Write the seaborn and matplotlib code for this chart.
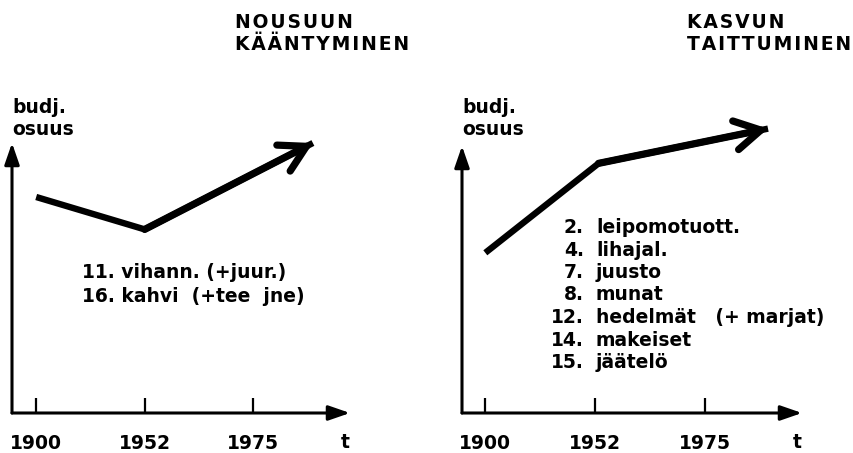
import matplotlib
matplotlib.use("Agg")
import matplotlib.pyplot as plt
import seaborn as sns
import pandas as pd

# ---- data -------------------------------------------------------------
years = ["1900", "1952", "1975"]
tick_pos = [0, 1, 2]
left_t = [0, 1, 2.55]
left_share = [8.0, 6.8, 10.0]
right_t = [0, 1.03, 2.57]
right_share = [6.0, 9.35, 10.65]
left_title = ["NOUSUUN", "KÄÄNTYMINEN"]
right_title = ["KASVUN", "TAITTUMINEN"]
y_label = ["budj.", "osuus"]
x_label = "t"
left_items = ["11. vihann. (+juur.)", "16. kahvi  (+tee  jne)"]
right_nums = ["2.", "4.", "7.", "8.", "12.", "14.", "15."]
right_items = ["leipomotuott.", "lihajal.", "juusto", "munat",
               "hedelmät   (+ marjat)", "makeiset", "jäätelö"]

# ---- style ------------------------------------------------------------
sns.set_theme(style="white")
plt.rcParams["font.family"] = ["DejaVu Sans"]
plt.rcParams["font.weight"] = "bold"
FS = 13.5

W, H = 854, 453
fig = plt.figure(figsize=(W / 100, H / 100), dpi=100)
fig.patch.set_facecolor("white")


def ptext(x, y, s, **kw):
    kw.setdefault("fontsize", FS)
    kw.setdefault("fontweight", "bold")
    kw.setdefault("va", "baseline")
    kw.setdefault("color", "black")
    fig.text(x / W, 1 - y / H, s, **kw)


def spaced(s):
    return "\u200a".join(s)


def panel(x0, y_top, x1, y_bot, xlim, t, share, t_x):
    ax = fig.add_axes([x0 / W, 1 - y_bot / H, (x1 - x0) / W, (y_bot - y_top) / H])
    ax.patch.set_visible(False)
    df = pd.DataFrame({"t": t, "share": share})
    sns.lineplot(data=df, x="t", y="share", ax=ax, color="black", lw=4.6,
                 sort=False, estimator=None, solid_joinstyle="miter",
                 solid_capstyle="butt")
    for ln in ax.lines:
        ln.set_clip_on(False)
    ax.annotate("", xy=(t[-1], share[-1]), xytext=(t[-2], share[-2]),
                arrowprops=dict(arrowstyle="->,head_length=1.85,head_width=1.05",
                                mutation_scale=10, lw=5.2, color="black",
                                shrinkA=0, shrinkB=0, joinstyle="miter"),
                annotation_clip=False)
    ax.set_xlim(xlim)
    ax.set_ylim(0, 10)
    for sp in ax.spines.values():
        sp.set_visible(False)
    # axis arrows
    ax.annotate("", xy=(0, 1), xytext=(0, 0), xycoords="axes fraction",
                arrowprops=dict(arrowstyle="-|>,head_length=1.3,head_width=0.45",
                                mutation_scale=10, lw=2.2, color="black",
                                shrinkA=0, shrinkB=0))
    ax.annotate("", xy=(1, 0), xytext=(0, 0), xycoords="axes fraction",
                arrowprops=dict(arrowstyle="-|>,head_length=1.3,head_width=0.45",
                                mutation_scale=10, lw=2.2, color="black",
                                shrinkA=0, shrinkB=0))
    ax.set_xticks(tick_pos, years)
    ax.set_yticks([])
    ax.tick_params(axis="x", direction="in", length=11, width=1.6, pad=15,
                   labelsize=FS, color="black", labelcolor="black", bottom=True)
    for lab in ax.get_xticklabels():
        lab.set_fontweight("bold")
    ax.set_xlabel("")
    ax.set_ylabel("")
    ptext(t_x, 448, x_label, ha="center")
    return ax


panel(12, 143, 350, 413, (-0.223, 2.892), left_t, left_share, 345)
panel(462, 146, 802, 413, (-0.212, 2.879), right_t, right_share, 797)

# titles
for i, s in enumerate(left_title):
    ptext(235, 28 + 22 * i, spaced(s))
for i, s in enumerate(right_title):
    ptext(687, 28 + 22 * i, spaced(s))

# y labels
for x in (12, 462):
    for i, s in enumerate(y_label):
        ptext(x, 113 + 22 * i, s)

# annotations
for i, s in enumerate(left_items):
    ptext(82, 278 + 24 * i, s)
for i, (n, s) in enumerate(zip(right_nums, right_items)):
    ptext(584, 233 + 22.5 * i, n, ha="right")
    ptext(596, 233 + 22.5 * i, s)

fig.savefig("out.png", dpi=100, facecolor="white")
